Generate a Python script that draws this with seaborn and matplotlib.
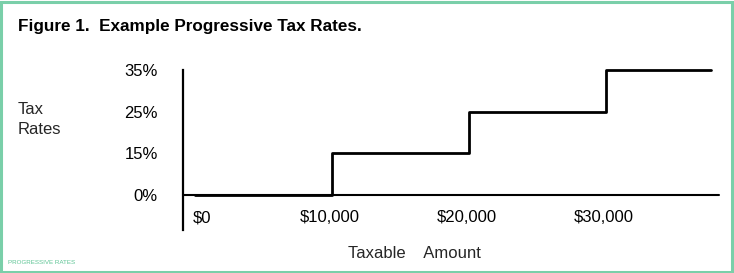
import matplotlib
matplotlib.use("Agg")
import matplotlib.pyplot as plt
from matplotlib.patches import Rectangle
import seaborn as sns
import pandas as pd

# Data
rate_labels = ["0%", "15%", "25%", "35%"]
bracket_starts = [0, 10000, 20000, 30000]
bracket_rate_index = [0, 1, 2, 3]
last_amount = 37700
axis_end = 38300
x_ticks = [0, 10000, 20000, 30000]
x_tick_labels = ["$0", "$10,000", "$20,000", "$30,000"]

sns.set_theme(style="white")
plt.rcParams["font.family"] = ["Liberation Sans", "DejaVu Sans"]

W, H = 734, 273
fig = plt.figure(figsize=(W / 100, H / 100), dpi=100)
fig.patch.set_facecolor("white")

left = 183 / W
right = 722 / W
top = 1 - 70 / H
bottom = 1 - 230 / H
ax = fig.add_axes([left, bottom, right - left, top - bottom])
ax.set_facecolor("white")

# Step data
xs = bracket_starts + [last_amount]
ys = bracket_rate_index + [bracket_rate_index[-1]]
df = pd.DataFrame({"amount": xs, "level": ys})
sns.lineplot(data=df, x="amount", y="level", drawstyle="steps-post",
             color="black", linewidth=2, ax=ax, clip_on=False)
ax.plot([-900, axis_end], [0, 0], color="black", linewidth=1.5, clip_on=False)

ax.set_xlim(-900, 38500)
ax.set_ylim(-0.84, 3.0)

for s in ["top", "right", "bottom"]:
    ax.spines[s].set_visible(False)
ax.spines["left"].set_color("black")
ax.spines["left"].set_linewidth(1.6)

ax.set_yticks(bracket_rate_index)
ax.set_yticklabels(rate_labels)
ax.tick_params(axis="y", length=0, pad=18, labelsize=12, labelcolor="black")
ax.set_xticks([])
ax.set_xlabel("")
ax.set_ylabel("")

# x tick labels placed below the baseline
for xv, lab in zip(x_ticks, x_tick_labels):
    xx = xv + (500 if xv == 0 else -150)
    ax.text(xx, -0.55, lab, ha="center", va="center", fontsize=12,
            color="black", clip_on=False)

fig.text(18 / W, 1 - 27 / H, "Figure 1.  Example Progressive Tax Rates.",
         fontsize=12.3, fontweight="bold", ha="left", va="center", color="black")
fig.text(18 / W, 1 - 110 / H, "Tax", fontsize=12, ha="left", va="center")
fig.text(18 / W, 1 - 130 / H, "Rates", fontsize=12, ha="left", va="center")
fig.text(414 / W, 1 - 254 / H, "Taxable    Amount", fontsize=12, ha="center", va="center")
fig.text(8 / W, 1 - 263 / H, "PROGRESSIVE RATES", fontsize=4.5, ha="left",
         va="center", color="#5cc494")

border = Rectangle((1 / W, 1.5 / H), (W - 3) / W, (H - 3) / H, transform=fig.transFigure,
                   fill=False, edgecolor="#7acfa9", linewidth=2.2)
fig.patches.append(border)

fig.savefig("out.png", dpi=100, facecolor="white")
